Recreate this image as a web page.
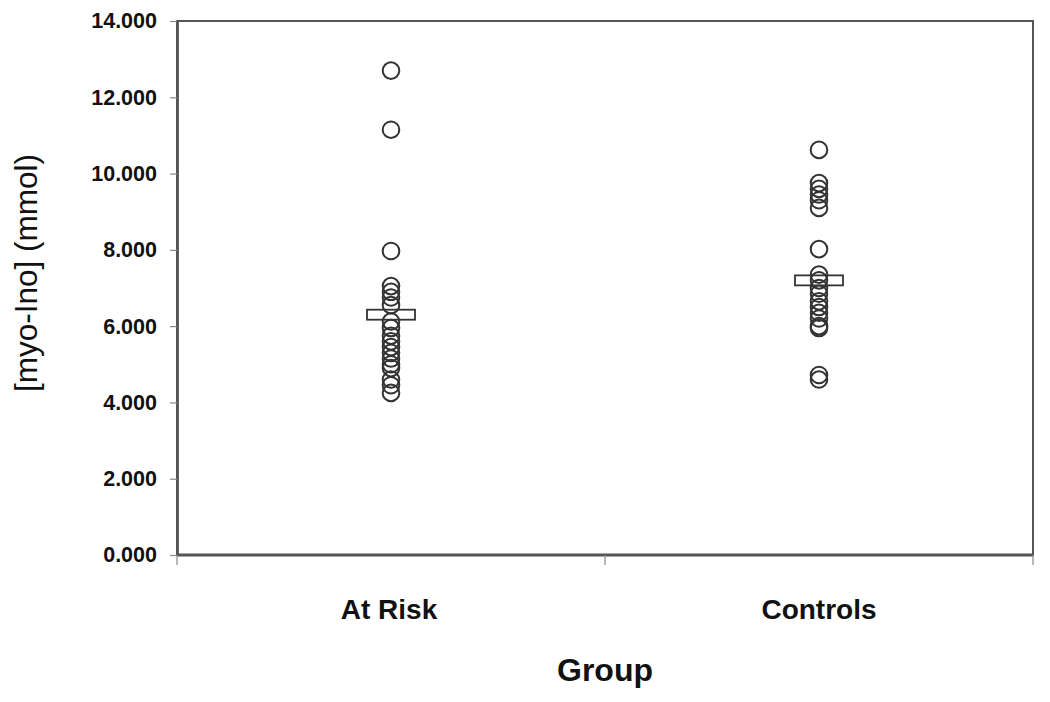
<!DOCTYPE html>
<html>
<head>
<meta charset="utf-8">
<script src="https://cdn.jsdelivr.net/npm/d3@7"></script>
<style>
	body { margin: 0; background: #fff; }
	svg { display: block; }
</style>
</head>
<body>
<div id="container"></div>
<script>
const groups = ["At Risk", "Controls"];
const atRiskValues = [12.7, 11.15, 7.97, 7.05, 6.9, 6.75, 6.55, 6.12, 5.95, 5.75, 5.6, 5.45, 5.3, 5.15, 5.0, 4.9, 4.6, 4.45, 4.25];
const controlsValues = [10.62, 9.75, 9.6, 9.45, 9.3, 9.1, 8.02, 7.35, 7.2, 7.0, 6.85, 6.65, 6.5, 6.35, 6.2, 6.0, 5.95, 4.72, 4.6];
const groupMeans = [6.3, 7.2];
const yTickValues = [0, 2, 4, 6, 8, 10, 12, 14];
const yTitle = "[myo-Ino] (mmol)";
const xTitle = "Group";

drawChart();

function drawChart() {
	const width = 1050;
	const height = 702;
	const margin = { top: 21, right: 17, bottom: 147, left: 177 };

	const svg = d3
		.select("#container")
		.append("svg")
		.attr("width", width)
		.attr("height", height);

	const x = d3
		.scaleBand()
		.domain(groups)
		.range([margin.left, width - margin.right])
		.paddingInner(0)
		.paddingOuter(0);

	const y = d3
		.scaleLinear()
		.domain([0, 14])
		.range([height - margin.bottom, margin.top]);

	const points = [];
	atRiskValues.forEach((v) => points.push({ group: groups[0], value: v }));
	controlsValues.forEach((v) => points.push({ group: groups[1], value: v }));

	// plot frame (top / right)
	svg.append("rect")
		.attr("x", margin.left)
		.attr("y", margin.top)
		.attr("width", width - margin.left - margin.right)
		.attr("height", height - margin.top - margin.bottom)
		.attr("fill", "none")
		.attr("stroke", "#444")
		.attr("stroke-width", 1.8);

	// y axis
	const yAxis = d3
		.axisLeft(y)
		.tickValues(yTickValues)
		.tickFormat(d3.format(".3f"))
		.tickSize(7)
		.tickSizeOuter(0)
		.tickPadding(13);

	const yG = svg.append("g")
		.attr("transform", `translate(${margin.left},0)`)
		.call(yAxis);
	yG.select(".domain").attr("stroke", "#555").attr("stroke-width", 2.8);
	yG.selectAll(".tick line").attr("stroke", "#888").attr("stroke-width", 1.2);
	yG.selectAll(".tick text")
		.attr("fill", "#111")
		.style("font-family", "'Liberation Sans', Arial, sans-serif")
		.style("font-weight", "bold")
		.style("font-size", "21.5px");

	// x axis line and ticks at band edges
	const yBase = y(0);
	svg.append("line")
		.attr("x1", margin.left)
		.attr("x2", width - margin.right)
		.attr("y1", yBase)
		.attr("y2", yBase)
		.attr("stroke", "#555")
		.attr("stroke-width", 2.8);

	const edges = groups.map((g) => x(g)).concat([x(groups[groups.length - 1]) + x.bandwidth()]);
	svg.append("g")
		.selectAll("line")
		.data(edges)
		.enter()
		.append("line")
		.attr("x1", (d) => d)
		.attr("x2", (d) => d)
		.attr("y1", yBase)
		.attr("y2", yBase + 10)
		.attr("stroke", "#888")
		.attr("stroke-width", 1.2);

	svg.append("g")
		.selectAll("text")
		.data(groups)
		.enter()
		.append("text")
		.attr("x", (d) => x(d) + x.bandwidth() / 2 - (d === groups[0] ? 2 : 0))
		.attr("y", 619)
		.attr("text-anchor", "middle")
		.attr("fill", "#111")
		.style("font-family", "'Liberation Sans', Arial, sans-serif")
		.style("font-weight", "bold")
		.style("font-size", "28px")
		.text((d) => d);

	// mean markers
	svg.append("g")
		.selectAll("rect")
		.data(groups)
		.enter()
		.append("rect")
		.attr("x", (d) => x(d) + x.bandwidth() / 2 - 24)
		.attr("y", (d, i) => y(groupMeans[i]) - 5)
		.attr("width", 48)
		.attr("height", 10)
		.attr("fill", "none")
		.attr("stroke", "#333")
		.attr("stroke-width", 1.8);

	// data points
	svg.append("g")
		.selectAll("circle")
		.data(points)
		.enter()
		.append("circle")
		.attr("cx", (d) => x(d.group) + x.bandwidth() / 2)
		.attr("cy", (d) => y(d.value))
		.attr("r", 8.3)
		.attr("fill", "none")
		.attr("stroke", "#333")
		.attr("stroke-width", 2);

	// axis titles
	svg.append("text")
		.attr("transform", `translate(37, 273) rotate(-90)`)
		.attr("text-anchor", "middle")
		.attr("fill", "#111")
		.style("font-family", "'Liberation Sans', Arial, sans-serif")
		.style("font-size", "31.5px")
		.text(yTitle);

	svg.append("text")
		.attr("x", (margin.left + width - margin.right) / 2)
		.attr("y", 681)
		.attr("text-anchor", "middle")
		.attr("fill", "#111")
		.style("font-family", "'Liberation Sans', Arial, sans-serif")
		.style("font-weight", "bold")
		.style("font-size", "32px")
		.text(xTitle);
}
</script>
</body>
</html>
